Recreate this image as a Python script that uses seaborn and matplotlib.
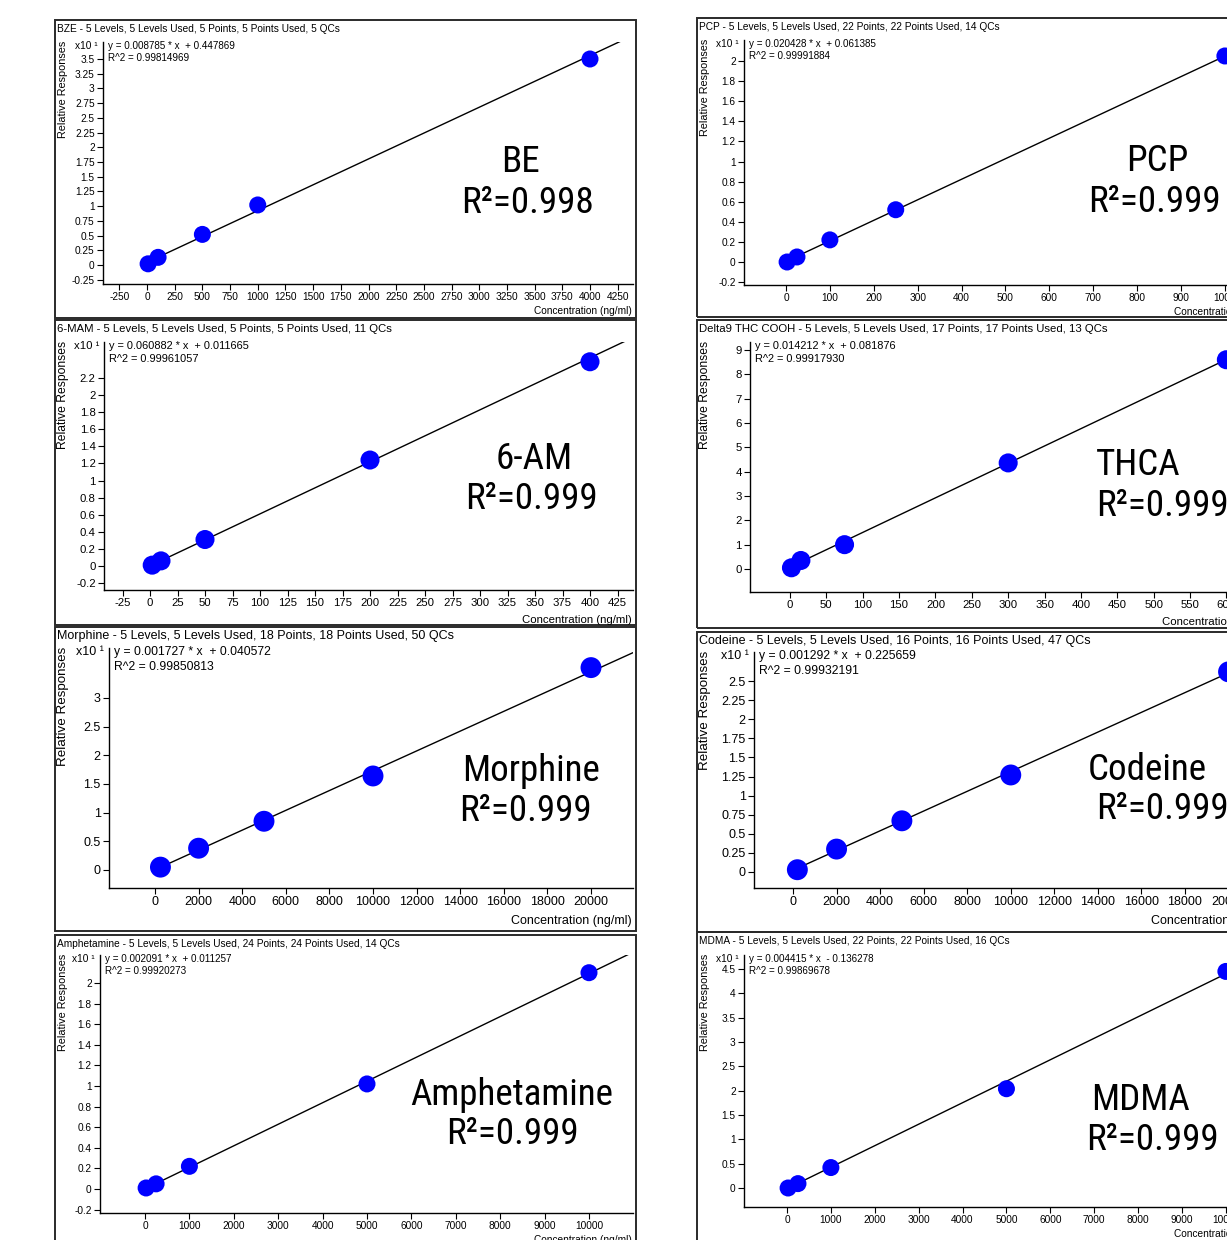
import os
import numpy as np
import matplotlib
matplotlib.use("Agg")
import matplotlib.pyplot as plt
import seaborn as sns
from matplotlib import font_manager as fm
from matplotlib.patches import Rectangle

# ---- data ----
titles = [
    "BZE - 5 Levels, 5 Levels Used, 5 Points, 5 Points Used, 5 QCs",
    "6-MAM - 5 Levels, 5 Levels Used, 5 Points, 5 Points Used, 11 QCs",
    "Morphine - 5 Levels, 5 Levels Used, 18 Points, 18 Points Used, 50 QCs",
    "Amphetamine - 5 Levels, 5 Levels Used, 24 Points, 24 Points Used, 14 QCs",
    "PCP - 5 Levels, 5 Levels Used, 22 Points, 22 Points Used, 14 QCs",
    "Delta9 THC COOH - 5 Levels, 5 Levels Used, 17 Points, 17 Points Used, 13 QCs",
    "Codeine - 5 Levels, 5 Levels Used, 16 Points, 16 Points Used, 47 QCs",
    "MDMA - 5 Levels, 5 Levels Used, 22 Points, 22 Points Used, 16 QCs",
]
names = ["BE", "6-AM", "Morphine", "Amphetamine", "PCP", "THCA", "Codeine", "MDMA"]
r2_short = ["0.998", "0.999", "0.999", "0.999", "0.999", "0.999", "0.999", "0.999"]
slopes = [0.008785, 0.060882, 0.001727, 0.002091, 0.020428, 0.014212, 0.001292, 0.004415]
intercepts = [0.447869, 0.011665, 0.040572, 0.011257, 0.061385, 0.081876, 0.225659, -0.136278]
r2_full = [0.99814969, 0.99961057, 0.99850813, 0.99920273, 0.99991884, 0.99917930, 0.99932191, 0.99869678]
y_mult = [10, 10, 10, 10, 10, 1, 10, 10]   # x10^1 axes

conc = [
    [10, 100, 500, 1000, 4000],
    [2, 10, 50, 200, 400],
    [250, 2000, 5000, 10000, 20000],
    [25, 250, 1000, 5000, 10000],
    [2.5, 25, 100, 250, 1000],
    [2, 15, 75, 300, 600],
    [200, 2000, 5000, 10000, 20000],
    [25, 250, 1000, 5000, 10000],
]
resp = [
    [0.02, 0.13, 0.52, 1.02, 3.50],
    [0.01, 0.06, 0.31, 1.24, 2.39],
    [0.05, 0.38, 0.85, 1.64, 3.53],
    [0.01, 0.05, 0.22, 1.02, 2.10],
    [0.00, 0.05, 0.22, 0.52, 2.05],
    [0.05, 0.35, 1.00, 4.36, 8.60],
    [0.03, 0.30, 0.67, 1.27, 2.62],
    [0.00, 0.09, 0.42, 2.04, 4.45],
]
xticks = [
    np.arange(-250, 4251, 250),
    np.arange(-25, 426, 25),
    np.arange(0, 20001, 2000),
    np.arange(0, 10001, 1000),
    np.arange(0, 1001, 100),
    np.arange(0, 601, 50),
    np.arange(0, 20001, 2000),
    np.arange(0, 10001, 1000),
]
yticks = [
    np.arange(-0.25, 3.51, 0.25),
    np.arange(-0.2, 2.21, 0.2),
    np.arange(0, 3.01, 0.5),
    np.arange(-0.2, 2.01, 0.2),
    np.arange(-0.2, 2.01, 0.2),
    np.arange(0, 9.1, 1),
    np.arange(0, 2.51, 0.25),
    np.arange(0, 4.51, 0.5),
]

# ---- layout in pixels of the 1227x1240 canvas ----
W, H = 1227, 1240
RX = 1276  # right column runs off the canvas
layout = [
    # frame (x0,y0,x1,y1), axes (l,t,r,b), x ref, y ref, font scale,
    # big label (cx name, cx R2, y name, y R2)
    dict(frame=(55, 20, 636, 318), axes=(103, 42, 633, 284), xref=((0, 147), (4000, 590)),
         yref=((0, 265), (3.5, 59)), fs=1.0, big=(521, 528, 162, 203)),
    dict(frame=(55, 320, 636, 625), axes=(104, 342, 633, 590), xref=((0, 150), (400, 590)),
         yref=((0, 566), (2.2, 378)), fs=1.12, big=(534, 531, 459, 499)),
    dict(frame=(55, 627, 636, 931), axes=(109, 648, 633, 888), xref=((0, 155), (20000, 591)),
         yref=((0, 870), (3, 698)), fs=1.23, big=(531, 525, 771, 811)),
    dict(frame=(55, 935, 636, 1250), axes=(100, 955, 633, 1213), xref=((0, 145), (10000, 589)),
         yref=((0, 1189), (2, 983)), fs=1.0, big=(512, 512, 1095, 1134)),
    dict(frame=(697, 18, RX, 317), axes=(744, 40, RX - 3, 285), xref=((0, 786), (900, 1181)),
         yref=((0, 262), (2, 61)), fs=1.0, big=(1157, 1154, 161, 202)),
    dict(frame=(697, 320, RX, 628), axes=(750, 342, RX - 3, 592), xref=((0, 790), (550, 1190)),
         yref=((0, 569), (9, 350)), fs=1.12, big=(1138, 1162, 465, 506)),
    dict(frame=(697, 632, RX, 932), axes=(754, 652, RX - 3, 888), xref=((0, 793), (18000, 1185)),
         yref=((0, 872), (2.5, 681)), fs=1.23, big=(1147, 1162, 770, 809)),
    dict(frame=(697, 932, RX, 1250), axes=(744, 955, RX - 3, 1207), xref=((0, 787), (9000, 1182)),
         yref=((0, 1188), (4.5, 969)), fs=1.0, big=(1141, 1152, 1100, 1140)),
]

sns.set_style("ticks")
plt.rcParams["font.family"] = ["Liberation Sans", "DejaVu Sans"]
plt.rcParams["text.color"] = "black"
plt.rcParams["xtick.color"] = "black"
plt.rcParams["ytick.color"] = "black"

# narrowest regular sans face available for the big compound labels
big_fp = fm.FontProperties(family=["Liberation Sans", "DejaVu Sans"])
for pat in ["LiberationSansNarrow-Regular", "NotoSans-Condensed.", "RobotoCondensed-Regular",
            "DejaVuSansCondensed."]:
    hits = [f.fname for f in fm.fontManager.ttflist if pat in os.path.basename(f.fname)]
    if hits:
        big_fp = fm.FontProperties(fname=hits[0])
        break

fig = plt.figure(figsize=(W / 100, H / 100), dpi=100)
fig.patch.set_facecolor("white")
renderer = fig.canvas.get_renderer()

# size the big labels so "R²=0.999" is about 133 px wide, as in the screenshots
probe = fig.text(0, 0, "R\u00b2=0.999", fontproperties=big_fp, fontsize=28)
big_size = 28 * 133 / probe.get_window_extent(renderer).width
probe.remove()


def fx(p):
    return p / W


def fy(p):
    return 1 - p / H


for i, L in enumerate(layout):
    fs = L["fs"]
    x0, y0, x1, y1 = L["frame"]
    fig.add_artist(Rectangle((fx(x0), fy(y1)), fx(x1) - fx(x0), fy(y0) - fy(y1),
                             transform=fig.transFigure, fill=False, ec="#2a2a2a", lw=1.4))
    l, t, r, b = L["axes"]
    ax = fig.add_axes([fx(l), fy(b), fx(r) - fx(l), fy(t) - fy(b)])
    ax.set_facecolor("none")

    (xv0, xp0), (xv1, xp1) = L["xref"]
    sx = (xv1 - xv0) / (xp1 - xp0)
    ax.set_xlim(xv0 + (l - xp0) * sx, xv0 + (r - xp0) * sx)
    (yv0, yp0), (yv1, yp1) = L["yref"]
    sy = (yv1 - yv0) / (yp1 - yp0)
    ax.set_ylim(yv0 + (b - yp0) * sy, yv0 + (t - yp0) * sy)

    # regression line from the reported equation, then the calibrators
    xl = [conc[i][0], ax.get_xlim()[1]]
    yl = [(slopes[i] * v + intercepts[i]) / y_mult[i] for v in xl]
    ax.plot(xl, yl, color="black", lw=1.0, zorder=2)
    sns.scatterplot(x=conc[i], y=resp[i], ax=ax, s=150 * fs ** 2, color="#0000ff",
                    edgecolor="none", zorder=3, legend=False)

    xt = [round(float(v), 4) for v in xticks[i]]
    yt = [round(float(v), 4) for v in yticks[i]]
    ax.set_xticks(xt)
    ax.set_xticklabels([f"{v:g}" for v in xt])
    ax.set_yticks(yt)
    ax.set_yticklabels([f"{v:g}" for v in yt])
    ax.tick_params(direction="out", length=4, width=0.8, pad=2, labelsize=7.3 * fs,
                   colors="black")
    for side in ("top", "right"):
        ax.spines[side].set_visible(False)
    for side in ("left", "bottom"):
        ax.spines[side].set_color("black")
        ax.spines[side].set_linewidth(1.0)

    fig.text(fx(x0 + 2), fy(y0 + 9), titles[i], fontsize=7.3 * fs, va="center", ha="left")
    fig.text(fx(x0 + 8), fy(t - 1), "Relative Responses", rotation=90, fontsize=7.8 * fs,
             va="top", ha="center")
    if y_mult[i] == 10:
        fig.text(fx(l - 5), fy(t + 4), "x10 \u00b9", fontsize=7.3 * fs, va="center", ha="right")
    sign = "+" if intercepts[i] >= 0 else "-"
    fig.text(fx(l + 5), fy(t + 4), f"y = {slopes[i]:.6f} * x  {sign} {abs(intercepts[i]):.6f}",
             fontsize=7.1 * fs, va="center", ha="left")
    fig.text(fx(l + 5), fy(t + 4 + 12 * fs), f"R^2 = {r2_full[i]:.8f}",
             fontsize=7.1 * fs, va="center", ha="left")
    fig.text(fx(r - 1), fy(b + 27 * fs), "Concentration (ng/ml)", fontsize=7.3 * fs,
             va="center", ha="right")

    cx1, cx2, cy1, cy2 = L["big"]
    fig.text(fx(cx1), fy(cy1), names[i], fontproperties=big_fp, fontsize=big_size,
             ha="center", va="center")
    fig.text(fx(cx2), fy(cy2), "R\u00b2=" + r2_short[i], fontproperties=big_fp, fontsize=big_size,
             ha="center", va="center")

fig.savefig("out.png", dpi=100)
